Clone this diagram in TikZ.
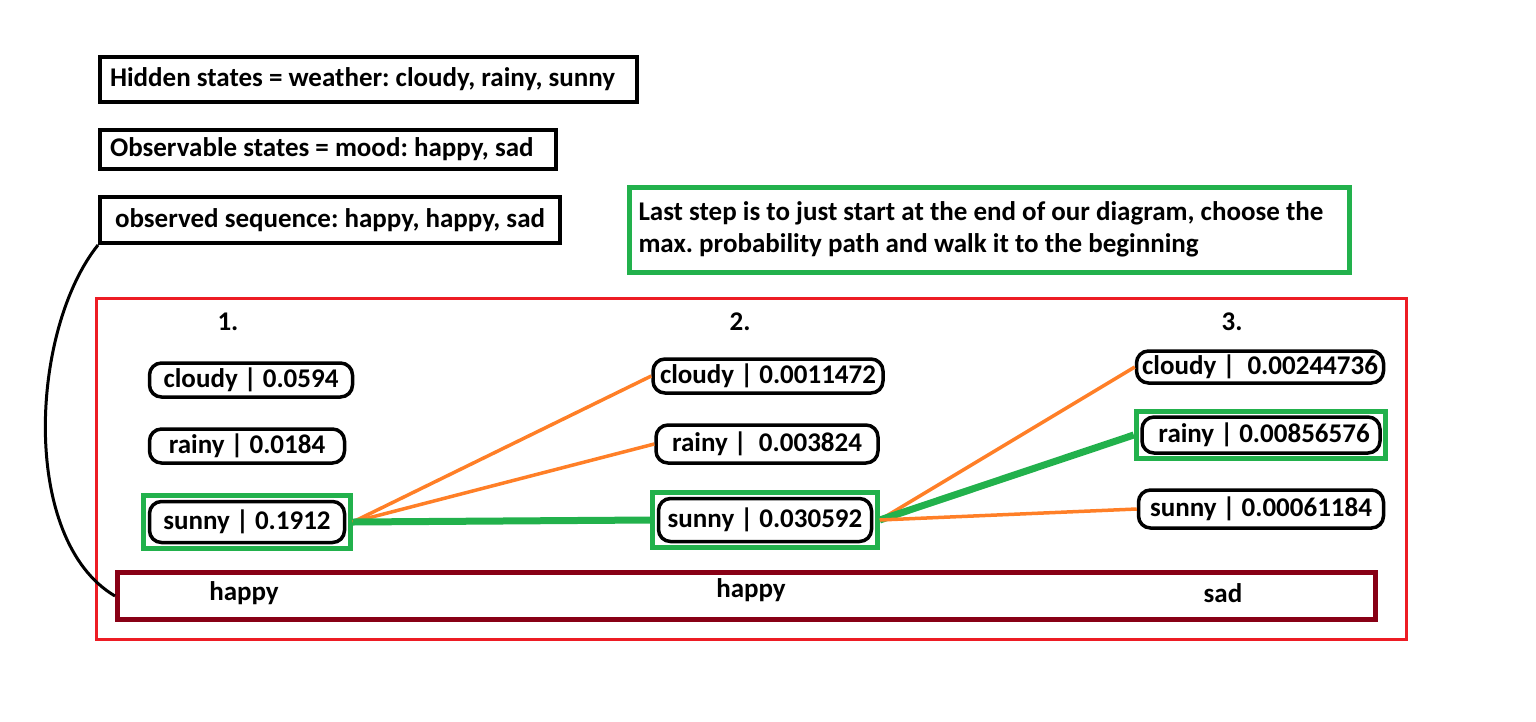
\documentclass[tikz,border=0pt]{standalone}
\usepackage{fontspec}
\setmainfont{Carlito}
\frenchspacing
\usetikzlibrary{fit}
\definecolor{paintgreen}{RGB}{34,177,76}
\definecolor{paintorange}{RGB}{255,127,39}
\definecolor{paintred}{RGB}{237,28,36}
\definecolor{paintmaroon}{RGB}{136,0,21}
\begin{document}
\begin{tikzpicture}[x=1pt, y=-1pt,
  txt/.style={font=\fontsize{27}{32}\selectfont\bfseries},
  info/.style={txt, draw, line width=4pt, anchor=north west, inner xsep=10pt},
  state/.style={txt, draw, line width=3.5pt, rounded corners=12pt,
    minimum width=#1, minimum height=34pt, inner sep=2pt},
  best/.style={draw=paintgreen, line width=5pt, inner sep=4pt},
  trans/.style={paintorange, line width=3.5pt},
  maxpath/.style={paintgreen, line width=7pt}
]
\useasboundingbox (0,0) rectangle (1536,721);

\node[info, text width=517pt, align=flush left, minimum height=45pt] (hidden) at (98,55) {Hidden states = weather: cloudy, rainy, sunny};
\node[info, text width=436pt, align=flush left, minimum height=39pt] (obsstates) at (98,128) {Observable states = mood: happy, sad};
\node[info, minimum width=460pt, minimum height=46pt] (seq) at (98,195) {observed sequence: happy, happy, sad};
\node[txt, draw=paintgreen, line width=5pt, anchor=north west, align=flush left,
  text width=701pt, inner xsep=9.5pt, minimum height=85pt] (note) at (626.5,184.5)
  {Last step is to just start at the end of our diagram, choose the\\max. probability path and walk it to the beginning};

\draw[paintred, line width=3.5pt] (96.5,298.5) rectangle (1406.5,639.5);

\node[txt] (n1) at (228,322) {1.};
\node[txt] (n2) at (740,322) {2.};
\node[txt] (n3) at (1232,322) {3.};

\node[state=203pt] (c1) at (251,380) {cloudy | 0.0594};
\node[state=195pt] (r1) at (247,446) {rainy | 0.0184};
\node[state=195pt, minimum height=41pt] (s1) at (247,522) {sunny | 0.1912};
\node[best, fit=(s1)] (f1) {};

\node[state=230pt] (c2) at (768,376) {cloudy | 0.0011472};
\node[state=222pt, minimum height=38pt] (r2) at (767,444) {rainy | \ 0.003824};
\node[state=213pt, minimum height=43pt] (s2) at (765,520) {sunny | 0.030592};
\node[best, fit=(s2)] (f2) {};

\node[state=247pt, minimum height=32pt] (c3) at (1260,367) {cloudy | \ 0.00244736};
\node[state=238pt, minimum height=36pt] (r3) at (1261,435) {\ rainy | 0.00856576};
\node[best, fit=(r3)] (f3) {};
\node[state=245pt, minimum height=38pt] (s3) at (1261,509) {sunny | 0.00061184};

\draw[trans] (f1.east) -- (c2.west);
\draw[trans] (f1.east) -- (r2.west);
\draw[maxpath] (f1.east) -- (f2.west);
\draw[trans] (f2.east) -- (c3.west);
\draw[maxpath] (f2.east) -- (f3.west);
\draw[trans] (f2.east) -- (s3.west);

\node[draw=paintmaroon, line width=5pt, minimum width=1258pt, minimum height=47pt] (obs) at (746.5,596) {};
\node[txt] (o1) at (244,593) {happy};
\node[txt] (o2) at (751,590) {happy};
\node[txt] (o3) at (1223,593) {sad};

\draw[line width=3pt] (seq.south west) .. controls (30,330) and (20,540) .. (obs.west);
\end{tikzpicture}
\end{document}
